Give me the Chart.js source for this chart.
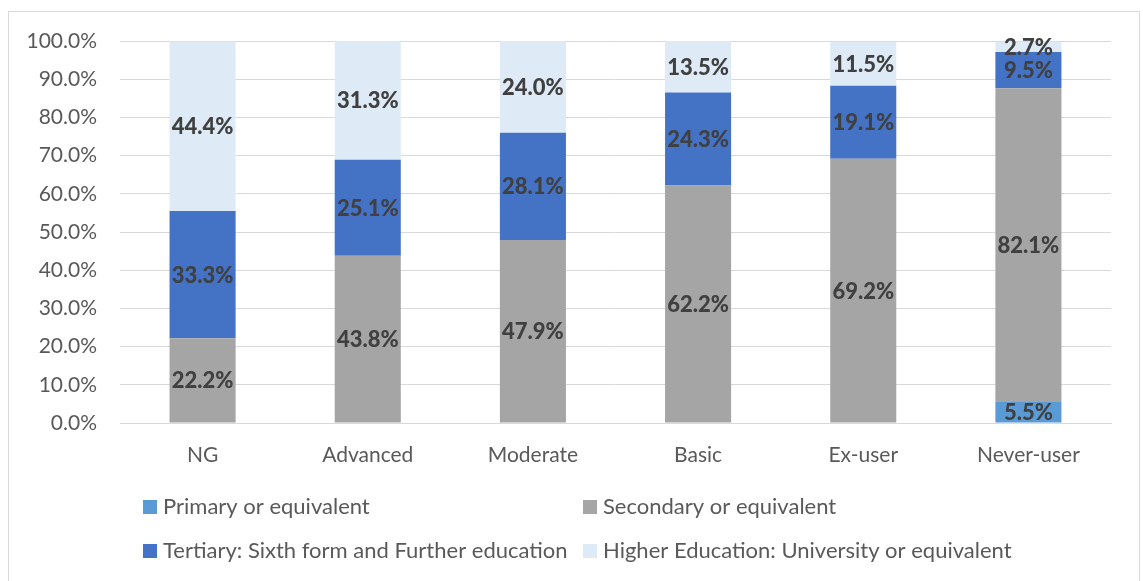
<!DOCTYPE html>
<html>
<head>
<meta charset="utf-8">
<script src="https://cdn.jsdelivr.net/npm/chart.js@4.4.1/dist/chart.umd.min.js"></script>
<style>
  html, body { margin: 0; padding: 0; background: #ffffff; }
  #wrap { position: absolute; left: 0; top: 0; width: 1143px; height: 581px; }
</style>
</head>
<body>
<div id="wrap"><canvas id="c" width="1143" height="581"></canvas></div>
<script>
const categories = ['NG', 'Advanced', 'Moderate', 'Basic', 'Ex-user', 'Never-user'];
const seriesNames = ['Primary or equivalent', 'Secondary or equivalent', 'Tertiary: Sixth form and Further education', 'Higher Education: University or equivalent'];
const primary   = [0, 0, 0, 0, 0, 5.5];
const secondary = [22.2, 43.8, 47.9, 62.2, 69.2, 82.1];
const tertiary  = [33.3, 25.1, 28.1, 24.3, 19.1, 9.5];
const higher    = [44.4, 31.3, 24.0, 13.5, 11.5, 2.7];
const yTicks = [0, 10, 20, 30, 40, 50, 60, 70, 80, 90, 100];

const colors = ['#5b9bd5', '#a5a5a5', '#4472c4', '#deebf7'];
const FONT = 'Lato, Calibri, sans-serif';

const frame = {
  id: 'frame',
  beforeDraw(chart) {
    const ctx = chart.ctx;
    ctx.save();
    ctx.strokeStyle = '#d9d9d9';
    ctx.lineWidth = 1;
    ctx.strokeRect(8.5, 11.5, 1131, 600);
    ctx.restore();
  }
};

const labels = {
  id: 'labels',
  afterDatasetsDraw(chart) {
    const ctx = chart.ctx;
    ctx.save();
    ctx.font = '900 22px ' + FONT;
    ctx.fillStyle = '#404040';
    ctx.textAlign = 'center';
    ctx.textBaseline = 'middle';
    chart.data.datasets.forEach((ds, di) => {
      const meta = chart.getDatasetMeta(di);
      meta.data.forEach((bar, i) => {
        const v = ds.data[i];
        if (!v) return;
        const yc = (bar.y + bar.base) / 2;
        ctx.fillText(v.toFixed(1) + '%', bar.x, yc + 1);
      });
    });
    ctx.restore();
  }
};

const legend = {
  id: 'customLegend',
  afterDraw(chart) {
    const ctx = chart.ctx;
    ctx.save();
    ctx.font = '22px ' + FONT;
    ctx.textBaseline = 'middle';
    ctx.textAlign = 'left';
    const pos = [[143, 507], [583, 507], [143, 551], [583, 551]];
    chart.data.datasets.forEach((ds, i) => {
      const [x, y] = pos[i];
      ctx.fillStyle = ds.backgroundColor;
      ctx.fillRect(x, y - 7, 14, 14);
      ctx.fillStyle = '#595959';
      ctx.fillText(ds.label, x + 20, y);
    });
    ctx.restore();
  }
};

const datasets = [primary, secondary, tertiary, higher].map((d, i) => ({
  label: seriesNames[i],
  data: d,
  backgroundColor: colors[i],
  borderWidth: 0,
  barPercentage: 0.8,
  categoryPercentage: 0.5
}));

new Chart(document.getElementById('c'), {
  type: 'bar',
  data: { labels: categories, datasets },
  plugins: [frame, labels, legend],
  options: {
    responsive: false,
    animation: false,
    events: [],
    layout: { padding: { left: 0, right: 32, top: 41, bottom: 98 } },
    plugins: { legend: { display: false }, tooltip: { enabled: false } },
    scales: {
      x: {
        stacked: true,
        grid: { display: false, drawTicks: false },
        border: { display: true, color: '#d9d9d9' },
        ticks: { color: '#595959', font: { family: FONT, size: 21 }, padding: 20 },
        afterFit(s) { s.height = 60; }
      },
      y: {
        stacked: true,
        min: 0, max: 100,
        afterBuildTicks(s) { s.ticks = yTicks.map(v => ({ value: v })); },
        grid: { color: '#d9d9d9', drawTicks: false },
        border: { display: false },
        ticks: {
          color: '#595959', font: { family: FONT, size: 21 }, padding: 23,
          callback: v => v.toFixed(1) + '%'
        },
        afterFit(s) { s.width = 120; }
      }
    }
  }
});
</script>
</body>
</html>
